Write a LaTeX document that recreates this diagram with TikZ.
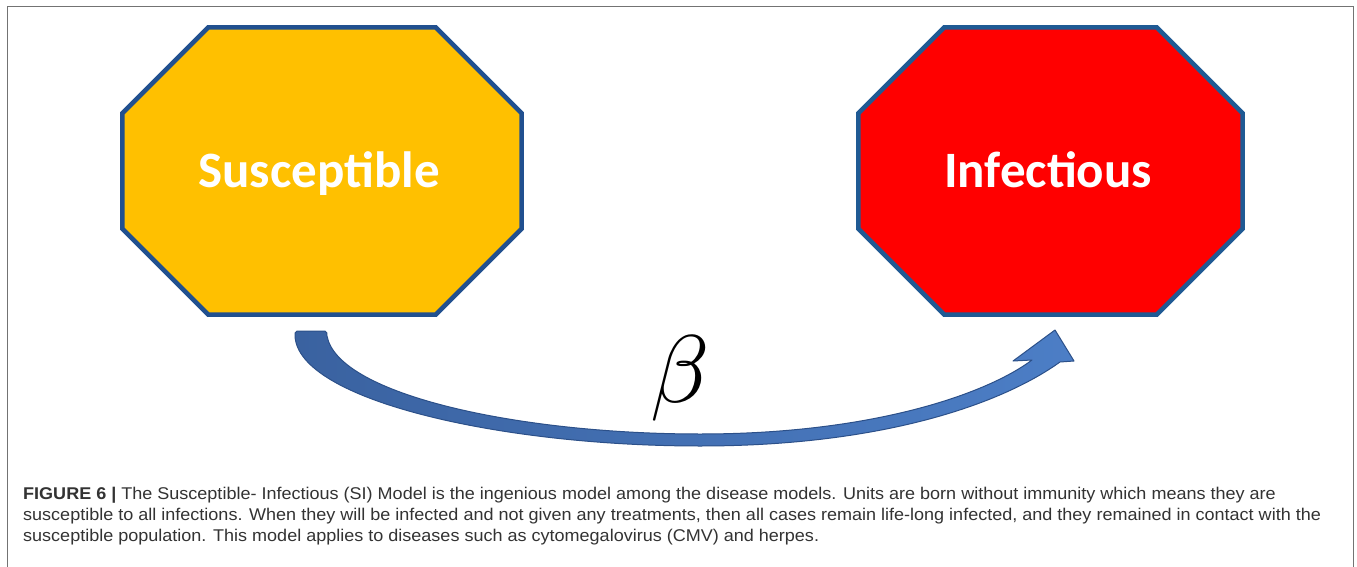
\documentclass[tikz,border=0pt]{standalone}
\usepackage{fontspec}
\usepackage{graphicx}
\usetikzlibrary{calc}
\newfontfamily\lblfont{Carlito}
\newfontfamily\capfont{Liberation Sans}[FakeStretch=1.06]
\definecolor{yel}{HTML}{FFC000}
\definecolor{redf}{HTML}{FF0000}
\definecolor{bordS}{HTML}{21508F}
\definecolor{bordI}{HTML}{1F5A94}
\definecolor{arrD}{HTML}{3A62A0}
\definecolor{arrL}{HTML}{4C7EC6}
\definecolor{arrE}{HTML}{2C5089}
\definecolor{captxt}{HTML}{333333}
\tikzset{
  boxS/.style={shape=rectangle, draw=none, minimum width=399pt, minimum height=287pt, inner sep=0pt},
  boxI/.style={shape=rectangle, draw=none, minimum width=384pt, minimum height=287pt, inner sep=0pt},
  octS/.style={draw=bordS, fill=yel, line width=4.5pt, line join=miter},
  octI/.style={draw=bordI, fill=redf, line width=4.5pt, line join=miter},
  lbl/.style={text=white, font=\lblfont\bfseries\fontsize{51}{51}\selectfont, inner sep=0pt, anchor=base},
  capline/.style={anchor=base west, inner sep=0pt, text=captxt, font=\capfont\fontsize{17}{21}\selectfont},
  frame/.style={draw=black!55, line width=1.6pt},
  arrowshape/.style={left color=arrD, right color=arrL, draw=arrE, line width=1pt, line join=round}
}
\begin{document}
\begin{tikzpicture}[x=1pt, y=-1pt]
  \useasboundingbox (0,0) rectangle (1357,567);
  \fill[white] (0,0) rectangle (1357,567);
  % frame
  \draw[frame] (7.5,600) -- (7.5,6.5) -- (1353.5,6.5) -- (1353.5,600);
  % boxes
  \node[boxS] (S) at (322,171) {};
  \node[boxI] (I) at (1050.5,171) {};
  \path[octS] ($(S.north west)+(86,0)$) -- ($(S.north east)+(-86,0)$) -- ($(S.north east)+(0,86)$)
     -- ($(S.south east)+(0,-86)$) -- ($(S.south east)+(-86,0)$) -- ($(S.south west)+(86,0)$)
     -- ($(S.south west)+(0,-86)$) -- ($(S.north west)+(0,86)$) -- cycle;
  \path[octI] ($(I.north west)+(86,0)$) -- ($(I.north east)+(-86,0)$) -- ($(I.north east)+(0,86)$)
     -- ($(I.south east)+(0,-86)$) -- ($(I.south east)+(-86,0)$) -- ($(I.south west)+(86,0)$)
     -- ($(I.south west)+(0,-86)$) -- ($(I.north west)+(0,86)$) -- cycle;
  \node[lbl] (St) at (319,187) {Susceptible};
  \node[lbl] (It) at (1048,187) {Infectious};
  % curved arrow
  \coordinate (tail) at (311,331);
  \coordinate (tip) at (1055,330);
  \path[arrowshape] (297,331) -- (325,331) to[out=-20,in=80] (327,336)
     .. controls (338,395) and (520,434) .. (700,434)
     .. controls (870,434) and (985,395) .. (1032,360)
     -- (1013,361) -- (tip) -- (1074,361) -- (1060,362)
     .. controls (1000,405) and (880,446) .. (700,446)
     .. controls (500,446) and (298,400) .. (295,336) to[out=100,in=200] cycle;
  \node[inner sep=0pt, anchor=base] (beta) at (680,402) {\scalebox{9.6}{$\beta$}};
  % caption
  \node[capline] (c1) at (23,499) {\textbf{FIGURE 6 |} The Susceptible- Infectious (SI) Model is the ingenious model among the disease models. Units are born without immunity which means they are};
  \node[capline] (c2) at (23,520) {susceptible to all infections. When they will be infected and not given any treatments, then all cases remain life-long infected, and they remained in contact with the};
  \node[capline] (c3) at (23,541) {susceptible population. This model applies to diseases such as cytomegalovirus (CMV) and herpes.};
\end{tikzpicture}
\end{document}
